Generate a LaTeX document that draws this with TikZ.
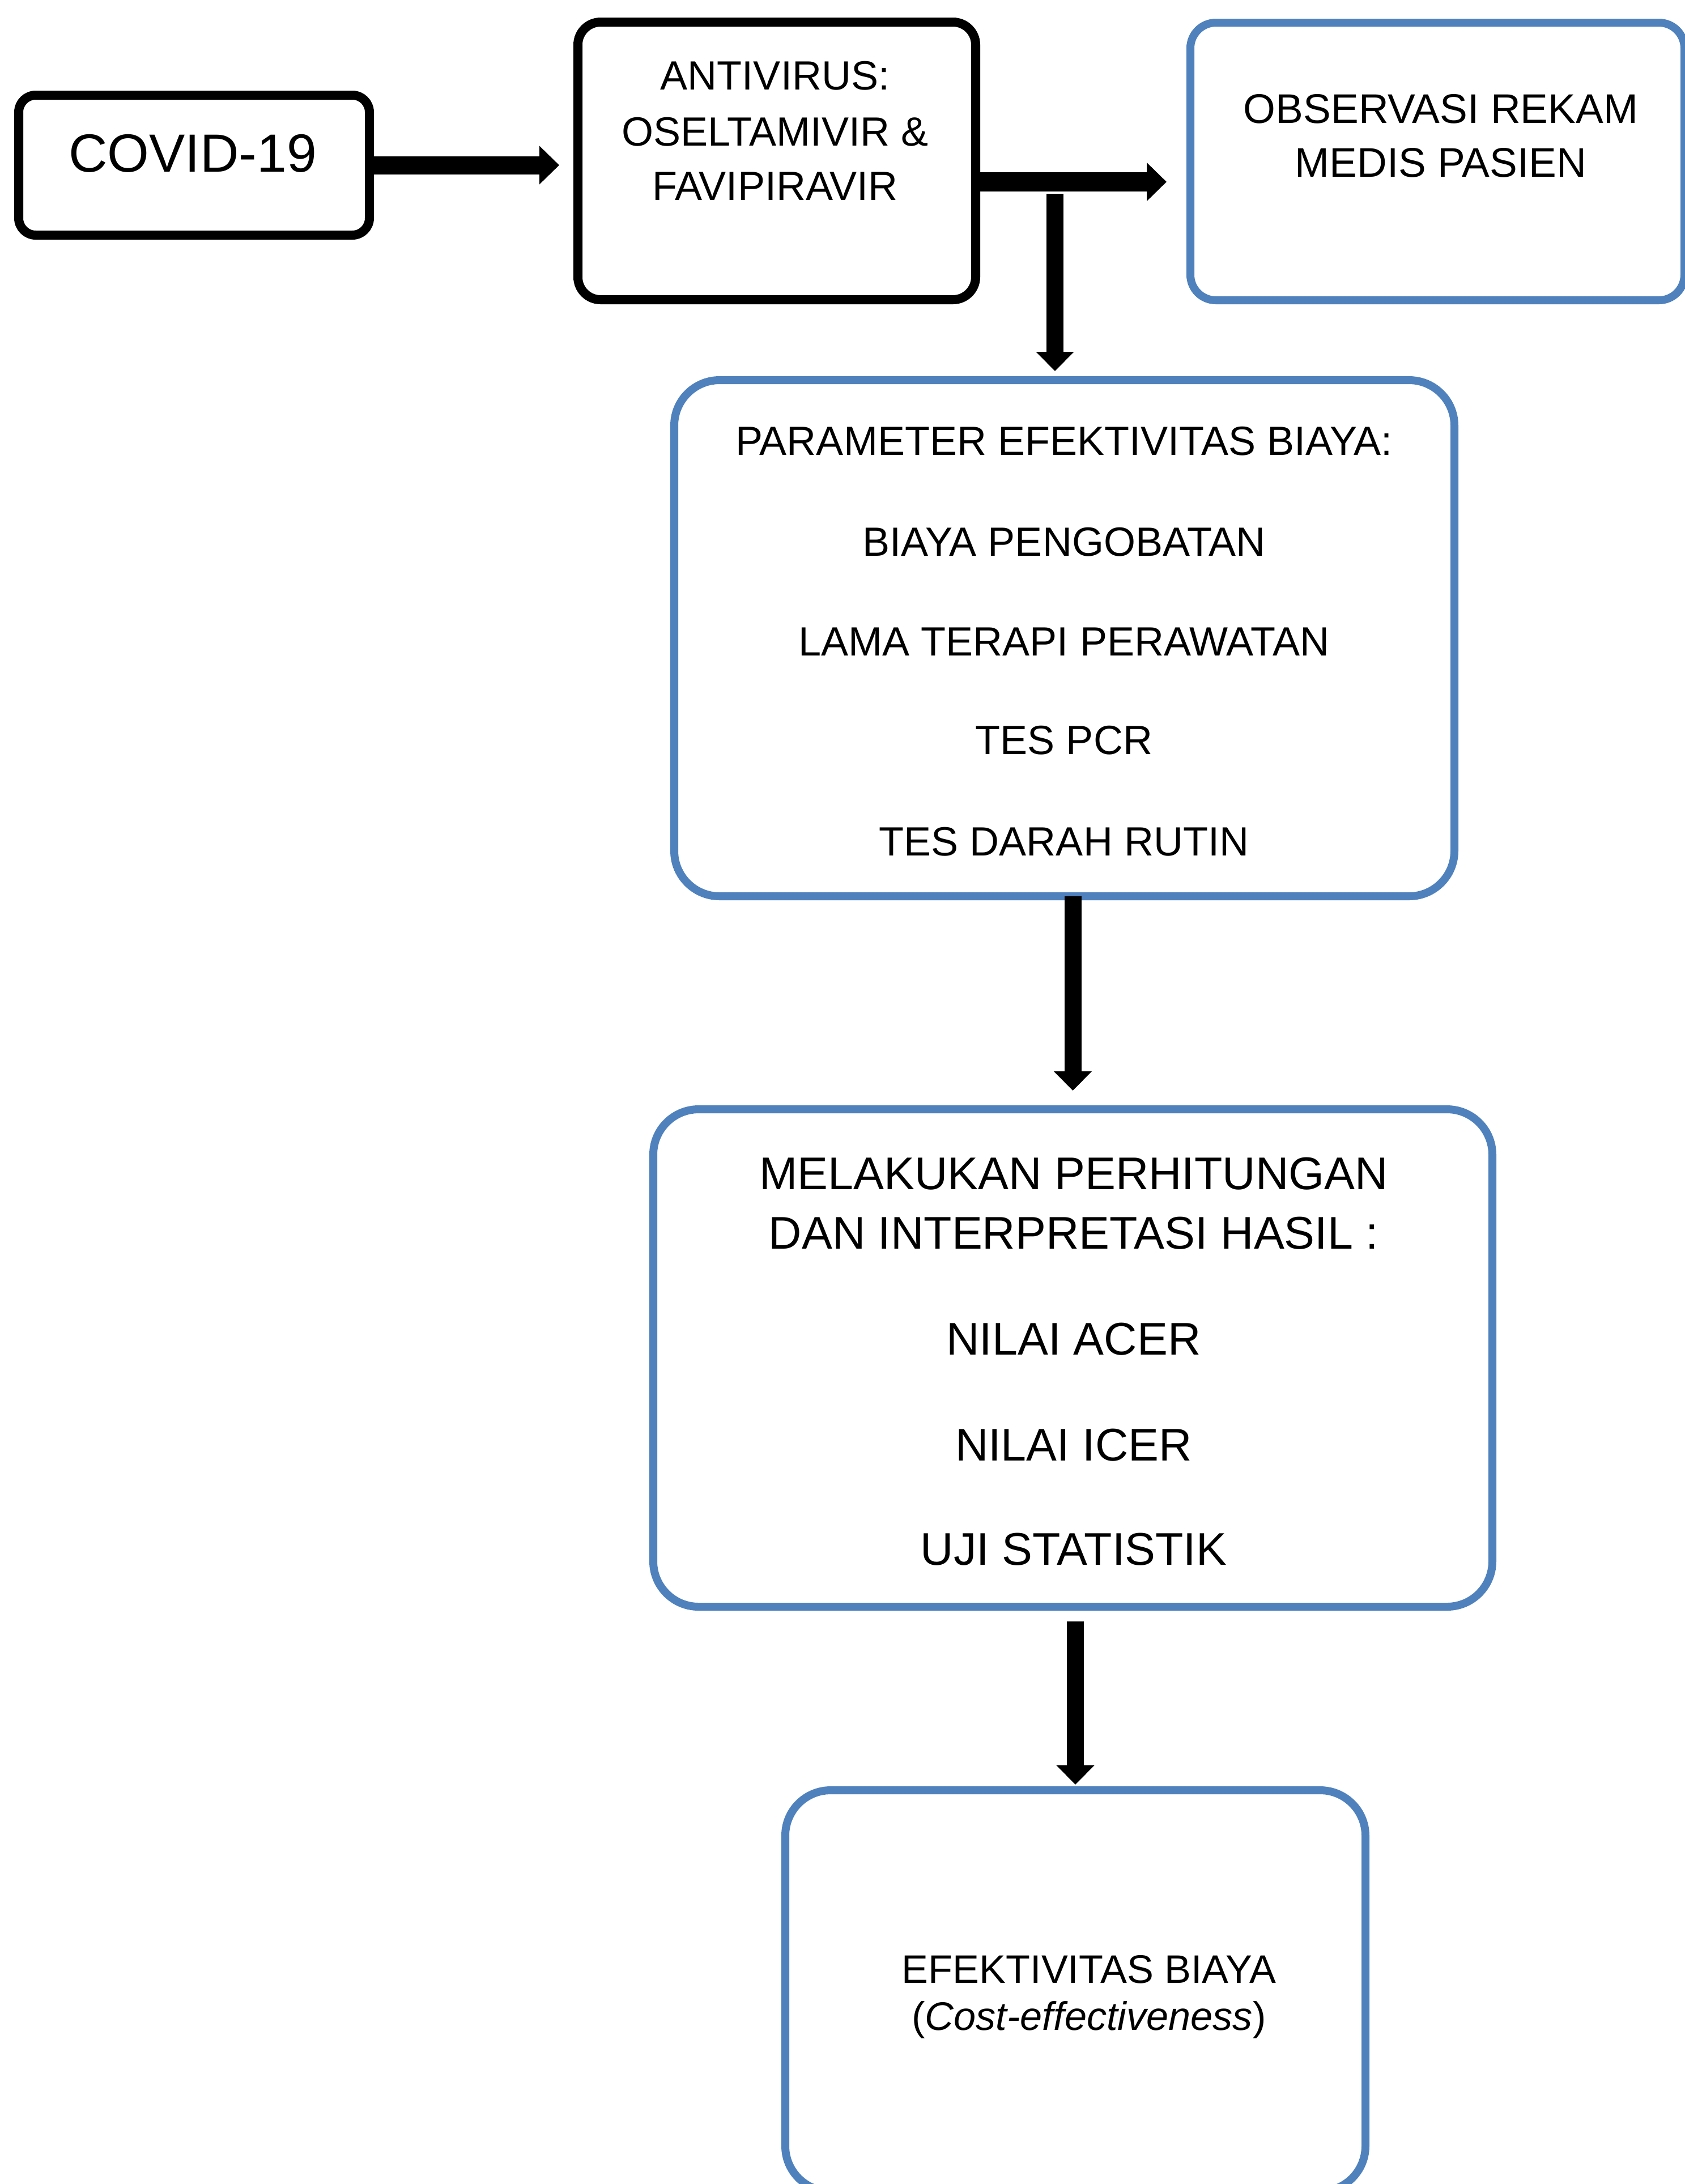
\documentclass[tikz,border=0pt]{standalone}
\usepackage{fontspec}
\setmainfont{Liberation Sans}
\usetikzlibrary{arrows.meta}
\definecolor{boxblue}{RGB}{79,129,189}
\begin{document}
\begin{tikzpicture}[
  blkbox/.style={rectangle, draw=black, line width=0.16cm, inner sep=0pt, outer sep=0pt},
  blubox/.style={rectangle, draw=boxblue, line width=0.14cm, inner sep=0pt, outer sep=0pt, rounded corners=0.8cm},
  txt/.style={anchor=base, inner sep=0pt, outer sep=0pt, text=black},
  fA/.style={font=\fontsize{20.5}{24}\selectfont},
  fB/.style={font=\fontsize{23}{27}\selectfont},
  fC/.style={font=\fontsize{27}{32}\selectfont},
  bigarrow/.style={draw=black, line width=0.32cm, -{Triangle[length=0.35cm,width=0.66cm]}},
  vertarrow/.style={draw=black, line width=0.30cm, -{Triangle[length=0.34cm,width=0.65cm]}}
]
\useasboundingbox (0,0) rectangle (29.74,-38.55);

% boxes
\node[blkbox, rounded corners=0.3cm, minimum width=6.19cm, minimum height=2.47cm] (covid) at (3.425,-2.915) {};
\node[blkbox, rounded corners=0.4cm, minimum width=7.02cm, minimum height=4.90cm] (anti) at (13.71,-2.84) {};
\node[blubox, rounded corners=0.45cm, minimum width=8.72cm, minimum height=4.90cm] (obs) at (25.37,-2.85) {};
\node[blubox, minimum width=13.77cm, minimum height=9.11cm] (param) at (18.785,-11.265) {};
\node[blubox, minimum width=14.81cm, minimum height=8.78cm] (melak) at (18.935,-23.97) {};
\node[blubox, minimum width=10.24cm, minimum height=7.08cm] (final) at (18.98,-35.14) {};

% texts
\node[txt, fC] (covidt) at (3.40,-3.03) {COVID-19};

\node[txt, fA] (anti1) at (13.68,-1.58) {ANTIVIRUS:};
\node[txt, fA] (anti2) at (13.68,-2.57) {OSELTAMIVIR \&};
\node[txt, fA] (anti3) at (13.68,-3.53) {FAVIPIRAVIR};

\node[txt, font=\fontsize{20.8}{24}\selectfont] (obs1) at (25.43,-2.17) {OBSERVASI REKAM};
\node[txt, font=\fontsize{20.8}{24}\selectfont] (obs2) at (25.43,-3.12) {MEDIS PASIEN};

\node[txt, fA] (par1) at (18.78,-8.03) {PARAMETER EFEKTIVITAS BIAYA:};
\node[txt, fA] (par2) at (18.78,-9.81) {BIAYA PENGOBATAN};
\node[txt, fA] (par3) at (18.78,-11.57) {LAMA TERAPI PERAWATAN};
\node[txt, fA] (par4) at (18.78,-13.31) {TES PCR};
\node[txt, fA] (par5) at (18.78,-15.10) {TES DARAH RUTIN};

\node[txt, fB] (mel1) at (18.95,-20.99) {MELAKUKAN PERHITUNGAN};
\node[txt, fB] (mel2) at (18.95,-22.04) {DAN INTERPRETASI HASIL :};
\node[txt, fB] (mel3) at (18.95,-23.91) {NILAI ACER};
\node[txt, fB] (mel4) at (18.95,-25.78) {NILAI ICER};
\node[txt, fB] (mel5) at (18.95,-27.62) {UJI STATISTIK};

\node[txt, font=\fontsize{20}{24}\selectfont] (fin1) at (19.22,-35.00) {EFEKTIVITAS BIAYA};
\node[txt, font=\fontsize{20}{24}\selectfont] (fin2) at (19.22,-35.83) {(\textit{Cost-effectiveness})};

% connectors
\draw[bigarrow, shorten >=0.33cm] (covid.east) -- (covid.east -| anti.west);
\coordinate (a2s) at ([yshift=-0.37cm]anti.east);
\draw[bigarrow, line width=0.34cm, shorten >=0.42cm] (a2s) -- (a2s -| obs.west);
\coordinate (branch) at (18.62,-3.42);
\draw[vertarrow, shorten >=0.16cm] (branch) -- (branch |- param.north);
\draw[vertarrow, shorten >=0.33cm] (param.south -| melak.north) -- (melak.north);
\draw[vertarrow, shorten <=0.26cm, shorten >=0.10cm] (melak.south -| final.north) -- (final.north);
\end{tikzpicture}
\end{document}
